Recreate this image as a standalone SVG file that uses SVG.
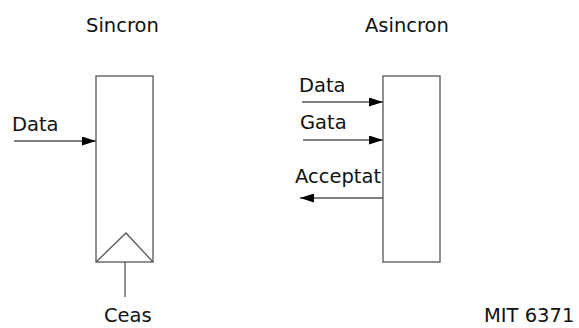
<svg xmlns="http://www.w3.org/2000/svg" width="579" height="328" viewBox="0 0 579 328">
  <style>
    text { font-family: "DejaVu Sans", Verdana, sans-serif; font-size: 19.5px; fill: #111; }
    .box { fill: none; stroke: #555; stroke-width: 1.3; }
    .wire { fill: none; stroke: #555; stroke-width: 1.3; }
  </style>
  <defs>
    <marker id="arrow" viewBox="0 0 14 9" refX="14" refY="4.5" markerWidth="14" markerHeight="9" markerUnits="userSpaceOnUse" orient="auto">
      <path d="M0,0 L14,4.5 L0,9 Z" fill="#000"/>
    </marker>
  </defs>
  <rect width="579" height="328" fill="#fff"/>

  <text x="86" y="32">Sincron</text>
  <text x="365" y="32">Asincron</text>

  <!-- synchronous register with clock input -->
  <g id="sync-register">
    <rect class="box" x="96" y="76" width="57" height="186"/>
    <polyline class="box" points="96,262 126,233 153,262"/>
  </g>

  <!-- asynchronous handshake block -->
  <g id="async-block">
    <rect class="box" x="383" y="76" width="57" height="186"/>
  </g>

  <g id="connectors">
    <line class="wire" x1="14" y1="141" x2="96" y2="141" marker-end="url(#arrow)"/>
    <line class="wire" x1="125" y1="262" x2="125" y2="297"/>
    <line class="wire" x1="302" y1="102" x2="383" y2="102" marker-end="url(#arrow)"/>
    <line class="wire" x1="303" y1="140" x2="383" y2="140" marker-end="url(#arrow)"/>
    <line class="wire" x1="383" y1="198" x2="300" y2="198" marker-end="url(#arrow)"/>
  </g>

  <g id="labels">
    <text x="12" y="131">Data</text>
    <text x="104" y="322">Ceas</text>
    <text x="299" y="92">Data</text>
    <text x="300" y="129">Gata</text>
    <text x="295" y="183">Acceptat</text>
    <text x="484" y="322">MIT 6371</text>
  </g>
</svg>
